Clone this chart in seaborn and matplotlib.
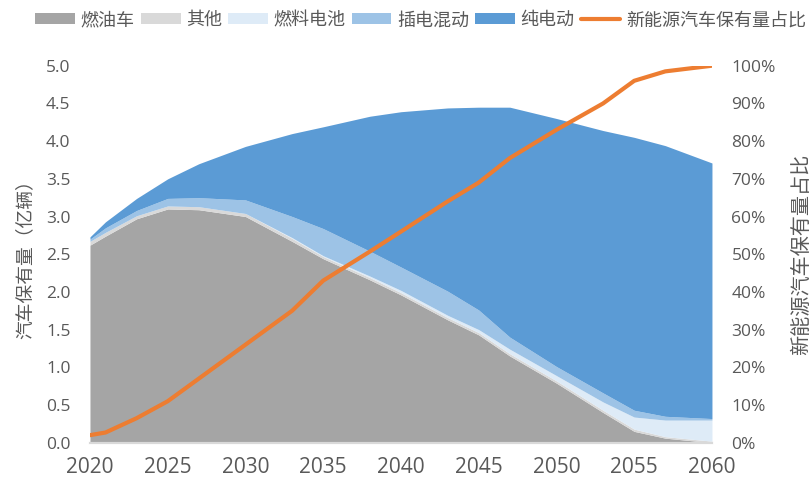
import matplotlib
matplotlib.use("Agg")
import matplotlib.pyplot as plt
import matplotlib.ticker as mticker
from matplotlib.patches import Patch
from matplotlib.lines import Line2D
import seaborn as sns
import pandas as pd

sns.set_theme(style="white")
# Open Sans for digits, Noto CJK for the Chinese text
plt.rcParams['font.family'] = ['Open Sans', 'Noto Sans CJK SC', 'DejaVu Sans']

# --- data (亿辆 / share) ---
years = [2020, 2021, 2023, 2025, 2027, 2030, 2033, 2035, 2038, 2040,
         2043, 2045, 2047, 2050, 2053, 2055, 2057, 2060]
ice = [2.62, 2.74, 2.97, 3.10, 3.09, 3.00, 2.67, 2.44, 2.16, 1.96,
       1.63, 1.43, 1.15, 0.79, 0.40, 0.15, 0.06, 0.00]
other = [0.05, 0.05, 0.04, 0.04, 0.04, 0.04, 0.04, 0.03, 0.03, 0.03,
         0.03, 0.03, 0.03, 0.03, 0.03, 0.03, 0.02, 0.02]
fuel_cell = [0.00, 0.00, 0.00, 0.00, 0.00, 0.00, 0.01, 0.01, 0.02, 0.03,
             0.03, 0.04, 0.06, 0.07, 0.11, 0.16, 0.22, 0.28]
phev = [0.03, 0.06, 0.07, 0.10, 0.12, 0.18, 0.28, 0.36, 0.33, 0.31,
        0.32, 0.26, 0.16, 0.12, 0.12, 0.09, 0.05, 0.02]
bev = [0.03, 0.08, 0.16, 0.26, 0.45, 0.71, 1.10, 1.35, 1.79, 2.06,
       2.43, 2.69, 3.05, 3.29, 3.48, 3.62, 3.59, 3.39]
nev_share = [0.02, 0.027, 0.065, 0.11, 0.17, 0.26, 0.35, 0.43, 0.507, 0.56,
             0.64, 0.69, 0.755, 0.83, 0.90, 0.96, 0.985, 1.00]

series_names = ['燃油车', '其他', '燃料电池', '插电混动', '纯电动']
colors = ['#A5A5A5', '#D9D9D9', '#DEEBF7', '#9DC3E6', '#5B9BD5']
line_name = '新能源汽车保有量占比'
line_color = '#ED7D31'

df = pd.DataFrame({'year': years, '燃油车': ice, '其他': other,
                   '燃料电池': fuel_cell, '插电混动': phev, '纯电动': bev,
                   line_name: nev_share})

text_color = '#595959'

fig = plt.figure(figsize=(8.12, 4.79), dpi=100)
ax = fig.add_axes([0.1108, 0.0758, 0.766, 0.787])

ax.stackplot(df['year'], [df[n] for n in series_names], colors=colors,
             linewidth=0)
ax.set_xlim(2020, 2060)
ax.set_ylim(0, 5)
ax.yaxis.set_major_locator(mticker.MultipleLocator(0.5))
ax.yaxis.set_major_formatter(mticker.FormatStrFormatter('%.1f'))
ax.xaxis.set_major_locator(mticker.MultipleLocator(5))
ax.set_ylabel('汽车保有量（亿辆）', fontsize=13.5, color=text_color, labelpad=8)
ax.set_xlabel('')

ax2 = ax.twinx()
sns.lineplot(data=df, x='year', y=line_name, ax=ax2, color=line_color,
             linewidth=3, legend=False)
ax2.set_ylim(0, 1)
ax2.yaxis.set_major_locator(mticker.MultipleLocator(0.1))
ax2.yaxis.set_major_formatter(mticker.PercentFormatter(1.0, decimals=0))
ax2.set_ylabel(line_name, fontsize=14.5, color=text_color, labelpad=12)
ax2.set_xlabel('')

for a in (ax, ax2):
    for s in ('top', 'left', 'right'):
        a.spines[s].set_visible(False)
    a.spines['bottom'].set_color('#D9D9D9')
    a.spines['bottom'].set_linewidth(1.5)
    a.tick_params(axis='both', length=0, labelsize=12.5, colors=text_color)
ax.tick_params(axis='x', pad=10, labelsize=15)
ax.tick_params(axis='y', pad=14)
ax2.tick_params(axis='y', pad=14)

handles = [Patch(facecolor=c, edgecolor='none') for c in colors]
handles.append(Line2D([0], [0], color=line_color, linewidth=3))
fig.legend(handles, series_names + [line_name], loc='center',
           bbox_to_anchor=(0.518, 0.958), ncol=6, frameon=False,
           fontsize=13, labelcolor=text_color, handlelength=2.2,
           handleheight=0.6, handletextpad=0.3, columnspacing=0.35)

fig.savefig('out.png', dpi=100)
